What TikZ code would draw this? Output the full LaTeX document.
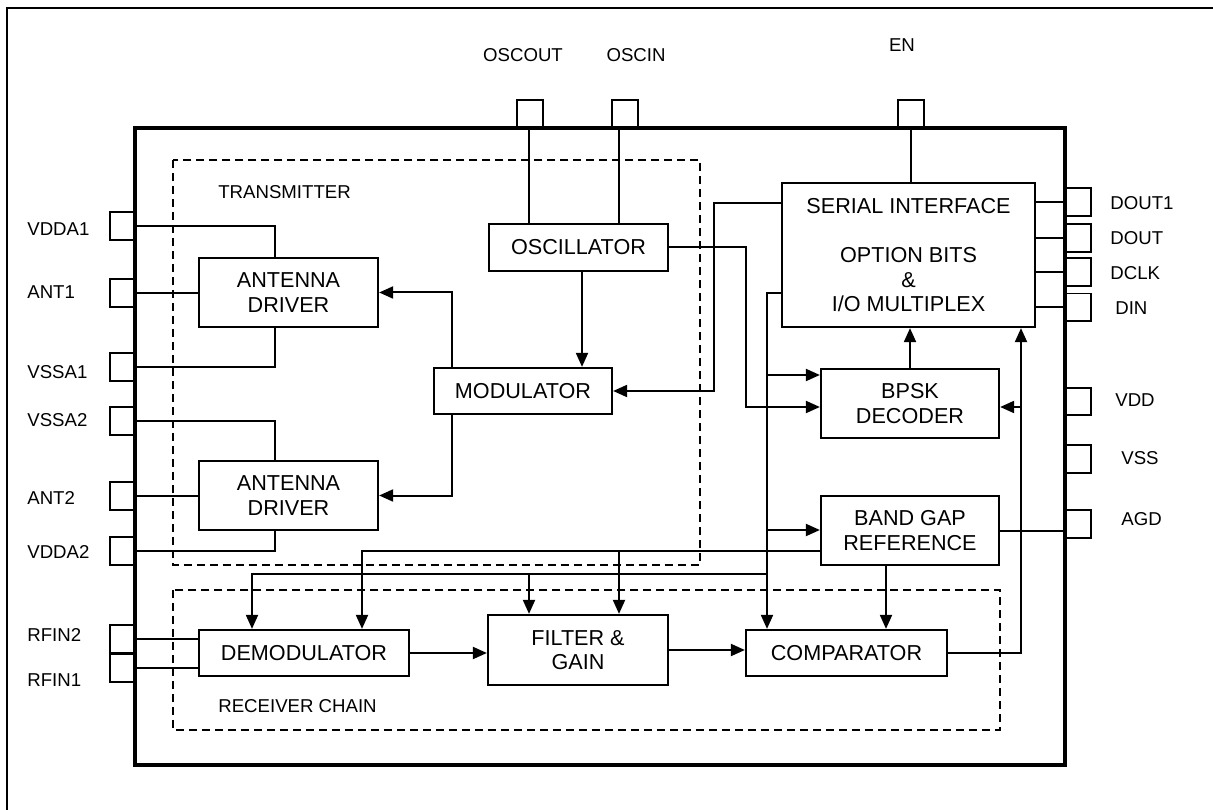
\documentclass[tikz,border=0pt]{standalone}
\usepackage{fontspec}
\setmainfont{Liberation Sans}
\usetikzlibrary{arrows.meta}

\begin{document}
\begin{tikzpicture}[x=0.02cm,y=-0.02cm,
 wire/.style={line width=0.04cm},
 arr/.style={wire,-{Triangle[length=0.28cm,width=0.24cm]}},
 blk/.style={draw,line width=0.045cm,inner sep=0,align=center,
  font=\fontsize{12.3}{14}\selectfont},
 pad/.style={draw,line width=0.04cm,minimum width=0.52cm,minimum height=0.56cm,inner sep=0},
 lbl/.style={inner sep=0,font=\fontsize{10.6}{12}\selectfont},
 grp/.style={line width=0.035cm,dash pattern=on 0.16cm off 0.1cm}]

\useasboundingbox (0,0) rectangle (1213,810);

\newcommand{\mkbox}[6] % name, x1, y1, x2, y2, text
{
 \node[blk,minimum width={(#4-#2)*0.02cm},minimum height={(#5-#3)*0.02cm}]
  (#1) at ({(#2+#4)/2},{(#3+#5)/2}) {#6};
}
\newcommand{\lpad}[3]{\node[pad] (p#1) at (122.5,#2) {}; \node[lbl,anchor=west] (l#1) at (27,#3) {#1};}
\newcommand{\rpad}[4]{\node[pad] (p#1) at (1078,#2) {}; \node[lbl,anchor=west] (l#1) at (#3,#4) {#1};}
\newcommand{\tpad}[4]{\node[pad] (p#1) at (#2,114) {}; \node[lbl] (l#1) at (#3,#4) {#1};}

% page frame
\draw[line width=0.045cm] (7,810) -- (7,8) -- (1213,8);

% pads
\lpad{VDDA1}{226}{229} \lpad{ANT1}{293}{292} \lpad{VSSA1}{367}{372}
\lpad{VSSA2}{421}{420} \lpad{ANT2}{496}{498} \lpad{VDDA2}{551}{552}
\lpad{RFIN2}{639}{635} \lpad{RFIN1}{667.5}{680}
\rpad{DOUT1}{202}{1110}{203} \rpad{DOUT}{238.5}{1110}{238}
\rpad{DCLK}{272}{1110}{273} \rpad{DIN}{307.5}{1115}{308}
\rpad{VDD}{401.5}{1115}{400} \rpad{VSS}{459}{1121}{458}
\rpad{AGD}{524}{1121}{519}
\tpad{OSCOUT}{530}{523}{55} \tpad{OSCIN}{625}{636}{55} \tpad{EN}{911}{902}{45}

% chip
\draw[line width=0.065cm] (135,128) rectangle (1065,765);

% groups
\draw[grp] (173,160) rectangle (700,565);
\draw[grp] (173,590) rectangle (1000,730);
\node[lbl,anchor=west] (ltx) at (218,192) {TRANSMITTER};
\node[lbl,anchor=west] (lrx) at (218,706) {RECEIVER CHAIN};

% blocks
\mkbox{osc}{489}{224}{668}{271}{OSCILLATOR}
\mkbox{mod}{434}{368}{612}{414}{MODULATOR}
\mkbox{ad1}{199}{258}{378}{327}{ANTENNA\\DRIVER}
\mkbox{ad2}{199}{461}{378}{530}{ANTENNA\\DRIVER}
\mkbox{si}{782}{183}{1035}{327}{SERIAL INTERFACE\\[14pt]OPTION BITS\\\&\\I/O MULTIPLEX}
\mkbox{bpsk}{821}{369}{999}{438}{BPSK\\DECODER}
\mkbox{bg}{821}{496}{999}{565}{BAND GAP\\REFERENCE}
\mkbox{demod}{199}{630}{409}{676}{DEMODULATOR}
\mkbox{fg}{488}{615}{668}{685}{FILTER \&\\GAIN}
\mkbox{comp}{746}{630}{947}{676}{COMPARATOR}

% bends and taps
\coordinate (xad) at (275,0);
\coordinate (xm) at (452,0);
\coordinate (xo) at (582,0);
\coordinate (xoo) at (529,0);
\coordinate (xoi) at (619,0);
\coordinate (jmod) at (714,203);
\coordinate (josc) at (746,407);
\coordinate (jbus) at (767,293);
\coordinate (jbp) at (767,375);
\coordinate (jbg) at (767,530);
\coordinate (jlo) at (767,574);
\coordinate (xd1) at (252,0);
\coordinate (xf1) at (529,0);
\coordinate (jref) at (0,551);
\coordinate (xd2) at (362,0);
\coordinate (xf2) at (619,0);
\coordinate (xbg) at (886,0);
\coordinate (jcmp) at (1021,653);
\coordinate (jbk) at (1021,407);

% pad wiring
\draw[wire] (pVDDA1.east) -| (xad |- ad1.north);
\draw[wire] (pANT1.east) -- (pANT1.east -| ad1.west);
\draw[wire] (pVSSA1.east) -| (xad |- ad1.south);
\draw[wire] (pVSSA2.east) -| (xad |- ad2.north);
\draw[wire] (pANT2.east) -- (pANT2.east -| ad2.west);
\draw[wire] (pVDDA2.east) -| (xad |- ad2.south);
\draw[wire] (pRFIN2.east) -- (pRFIN2.east -| demod.west);
\draw[wire] (pRFIN1.east) -- (pRFIN1.east -| demod.west);
\draw[wire] (pDOUT1.west) -- (pDOUT1.west -| si.east);
\draw[wire] (pDOUT.west) -- (pDOUT.west -| si.east);
\draw[wire] (pDCLK.west) -- (pDCLK.west -| si.east);
\draw[wire] (pDIN.west) -- (pDIN.west -| si.east);
\draw[wire] (bg.east) -- (bg.east -| pAGD.west);
\draw[wire] (xoo |- pOSCOUT.south) -- (xoo |- osc.north);
\draw[wire] (xoi |- pOSCIN.south) -- (xoi |- osc.north);
\draw[wire] (pEN.south) -- (pEN.south |- si.north);

% signal paths
\draw[arr] (xo |- osc.south) -- (xo |- mod.north);
\draw[arr] (xm |- mod.north) |- (ad1.east);
\draw[arr] (xm |- mod.south) |- (ad2.east);
\draw[arr] (jmod -| si.west) -- (jmod) |- (mod.east);
\draw[arr] (osc.east) -| (josc) -- (josc -| bpsk.west);
\draw[arr] (jbus -| si.west) -- (jbus) -- (jbus |- comp.north);
\draw[arr] (jbp) -- (jbp -| bpsk.west);
\draw[arr] (jbg) -- (jbg -| bg.west);
\draw[arr] (jlo) -| (xd1 |- demod.north);
\draw[arr] (jlo -| xf1) -- (xf1 |- fg.north);
\draw[arr] (jref -| bg.west) -| (xd2 |- demod.north);
\draw[arr] (jref -| xf2) -- (xf2 |- fg.north);
\draw[arr] (xbg |- bg.south) -- (xbg |- comp.north);
\draw[arr] (bpsk.north) -- (bpsk.north |- si.south);
\draw[arr] (comp.east) -| (jcmp |- si.south);
\draw[arr] (jbk) -- (jbk -| bpsk.east);
\draw[arr] (demod.east) -- (demod.east -| fg.west);
\draw[arr] (fg.east) -- (fg.east -| comp.west);

\end{tikzpicture}
\end{document}
